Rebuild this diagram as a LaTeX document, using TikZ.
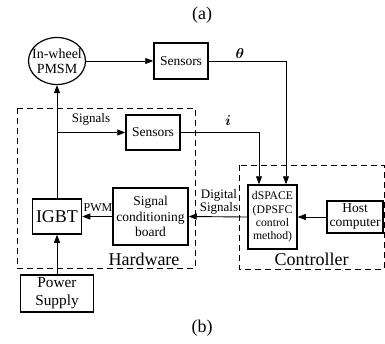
\documentclass[tikz,border=0pt]{standalone}
\usepackage{fontspec}
\setmainfont{Liberation Serif}
\usepackage{bm}
\usetikzlibrary{arrows.meta,shapes.geometric}
\begin{document}
\begin{tikzpicture}[x=1pt,y=-1pt,
  blk/.style={draw,line width=1.5pt,inner sep=0pt,align=center,font=\fontsize{13.5}{15}\selectfont},
  conn/.style={line width=0.9pt,-{Triangle[length=8pt,width=6pt]}},
  dbox/.style={draw,line width=1pt,dash pattern=on 6pt off 4pt},
  lbl/.style={inner sep=0pt,align=center}]
\useasboundingbox (0,0) rectangle (385,343);
% dashed groups
\draw[dbox] (17,108) rectangle (195,268);
\draw[dbox] (239,165) rectangle (384,269);
% blocks
\node[blk,ellipse,line width=1.2pt,inner xsep=-6pt,minimum width=57pt,minimum height=47pt,font=\fontsize{14}{14.5}\selectfont] (pmsm) at (57,61) {In-wheel\\PMSM};
\node[blk,minimum width=54pt,minimum height=36pt] (sensA) at (181,61) {Sensors};
\node[blk,minimum width=54pt,minimum height=35pt] (sensB) at (153,132.5) {Sensors};
\node[blk,minimum width=49pt,minimum height=35pt,font=\fontsize{18}{20}\selectfont] (igbt) at (57,216.5) {IGBT};
\node[blk,minimum width=75pt,minimum height=57pt,font=\fontsize{13.5}{15.5}\selectfont] (scb) at (150.5,216.5) {Signal\\conditioning\\board};
\node[blk,minimum width=73pt,minimum height=37pt,font=\fontsize{15.3}{18}\selectfont] (ps) at (57,293.5) {Power\\Supply};
\node[blk,minimum width=49pt,minimum height=64pt,font=\fontsize{11.7}{13.4}\selectfont] (dsp) at (272.5,217) {dSPACE\\(DPSFC\\control\\method)};
\node[blk,minimum width=56pt,minimum height=32pt,font=\fontsize{13.5}{14}\selectfont] (host) at (355,217) {Host\\computer};
% labels
\node[lbl,font=\fontsize{18}{20}\selectfont] (capa) at (202,15) {(a)};
\node[lbl,font=\fontsize{18}{20}\selectfont] (capb) at (202,328) {(b)};
\node[lbl,font=\fontsize{18}{20}\selectfont] (hwl) at (144,259) {Hardware};
\node[lbl,font=\fontsize{18}{20}\selectfont] (ctl) at (311.5,259) {Controller};
\node[lbl,font=\fontsize{15}{17}\selectfont] (thl) at (240,53) {$\bm{\theta}$};
\node[lbl,font=\fontsize{15}{17}\selectfont] (il) at (228,121) {$\bm{i}$};
\node[lbl,font=\fontsize{13}{15}\selectfont] (sigl) at (91,119) {Signals};
\node[lbl,font=\fontsize{12}{14}\selectfont] (pwml) at (98,208) {PWM};
\node[lbl,font=\fontsize{13}{12.5}\selectfont] (digl) at (219,202) {Digital\\Signals};
% connectors
\draw[conn] (pmsm.east) -- (sensA.west);
\draw[conn] (sensA.east) -| ([xshift=13.5pt]dsp.north);
\draw[conn] (sensB.east) -| ([xshift=-13.5pt]dsp.north);
\draw[conn] (igbt.north) -- (pmsm.south);
\draw[conn] (igbt.north |- sensB.west) -- (sensB.west);
\draw[conn] (scb.west) -- (igbt.east);
\draw[conn] (dsp.west) -- (scb.east);
\draw[conn] (host.west) -- (dsp.east);
\draw[conn] (ps.north) -- (igbt.south);
\end{tikzpicture}
\end{document}
